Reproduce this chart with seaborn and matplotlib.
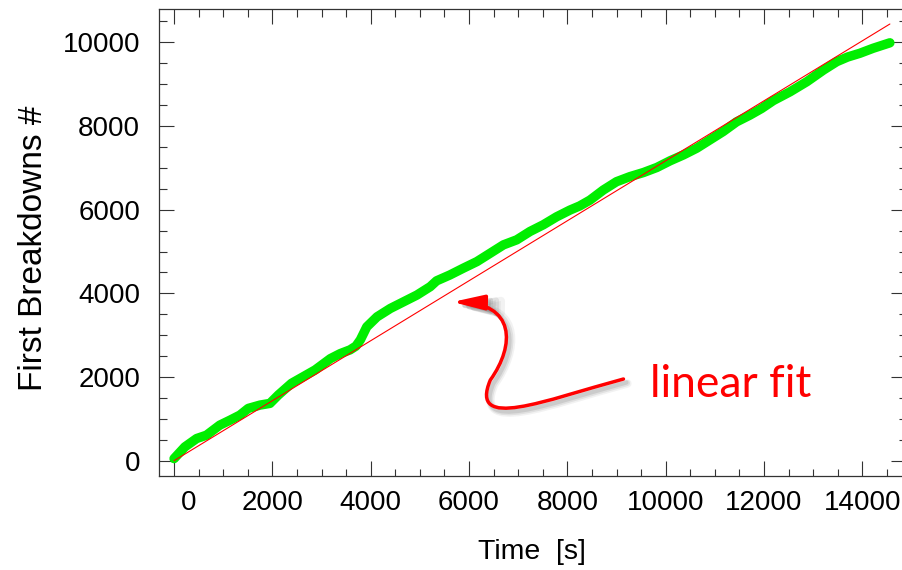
import numpy as np
import pandas as pd
import matplotlib
matplotlib.use("Agg")
import matplotlib.pyplot as plt
import seaborn as sns
from matplotlib.path import Path
from matplotlib.patches import FancyArrowPatch, ArrowStyle
from matplotlib.transforms import ScaledTranslation
from matplotlib.ticker import MultipleLocator

# Cumulative count of first breakdowns versus elapsed time
time_s = [0, 220, 460, 660, 930, 1140, 1340, 1510, 1750, 1950, 2120, 2390,
          2630, 2870, 3180, 3380, 3580, 3700, 3790, 3920, 4130, 4400, 4670,
          4940, 5210, 5340, 5610, 5880, 6160, 6430, 6700, 6970, 7240, 7510,
          7780, 8050, 8250, 8460, 8730, 9000, 9270, 9550, 9820, 10090, 10360,
          10630, 10900, 11170, 11440, 11710, 11950, 12190, 12530, 12870,
          13210, 13480, 13700, 13950, 14220, 14560]
first_breakdowns = [50, 330, 530, 610, 850, 970, 1090, 1250, 1330, 1370, 1570,
                    1850, 2010, 2170, 2440, 2560, 2650, 2740, 2890, 3200, 3440,
                    3640, 3800, 3960, 4160, 4300, 4440, 4600, 4760, 4960, 5160,
                    5280, 5480, 5640, 5830, 5990, 6090, 6230, 6470, 6670, 6790,
                    6890, 7010, 7170, 7310, 7470, 7670, 7870, 8100, 8260, 8420,
                    8610, 8820, 9060, 9340, 9540, 9650, 9740, 9860, 9990]

# Linear fit of the counts: breakdowns = slope * t + intercept
fit_slope = 0.717
fit_intercept = 0.0

x_ticks = [0, 2000, 4000, 6000, 8000, 10000, 12000, 14000]
y_ticks = [0, 2000, 4000, 6000, 8000, 10000]

sns.set_theme(style="ticks")
plt.rcParams["font.family"] = ["Liberation Sans", "DejaVu Sans"]

fig = plt.figure(figsize=(9.02, 5.70), dpi=100)
ax = fig.add_axes([0.176, 0.1654, 0.8284, 0.8188])

df = pd.DataFrame({"t": time_s, "n": first_breakdowns})
sns.lineplot(data=df, x="t", y="n", ax=ax, color="#00ee00", linewidth=6.8,
             sort=False, estimator=None, solid_capstyle="round",
             solid_joinstyle="round")

fit_t = np.array([time_s[0], time_s[-1]], dtype=float)
sns.lineplot(x=fit_t, y=fit_slope * fit_t + fit_intercept, ax=ax,
             color="#ff0000", linewidth=0.8)

ax.set_xlim(-311, 14887)
ax.set_ylim(-359, 10798)
ax.set_xticks(x_ticks)
ax.set_yticks(y_ticks)
ax.xaxis.set_minor_locator(MultipleLocator(500))
ax.yaxis.set_minor_locator(MultipleLocator(500))
ax.tick_params(which="both", direction="in", top=True, right=True,
               labeltop=False, labelright=False, color="#333333", width=0.8,
               labelcolor="black")
ax.tick_params(which="major", length=10.8, labelsize=20)
ax.tick_params(which="minor", length=5.4)
ax.tick_params(axis="y", which="major", pad=13.5)
ax.tick_params(axis="x", which="major", pad=10.3)
for sp in ax.spines.values():
    sp.set_color("#333333")
    sp.set_linewidth(0.9)
    sp.set_visible(True)

# the "0" label sits a little to the right of its tick
zero_label = ax.xaxis.get_major_ticks()[0].label1
zero_label.set_transform(zero_label.get_transform()
                         + ScaledTranslation(0.15, 0, fig.dpi_scale_trans))

ax.set_xlabel("Time  [s]", fontsize=20.5, color="black")
ax.set_ylabel("First Breakdowns #", fontsize=24, color="black")
ax.xaxis.set_label_coords(0.5, -0.1356)
ax.yaxis.set_label_coords(-0.1468, 0.488)

# Curved call-out arrow pointing at the fit line
arrow_path = Path(
    [(9141, 1953), (7553, 1451), (5985, 686), (6433, 1929),
     (6942, 2766), (6942, 3770), (5660, 3794)],
    [Path.MOVETO, Path.CURVE4, Path.CURVE4, Path.CURVE4,
     Path.CURVE4, Path.CURVE4, Path.CURVE4])
style = ArrowStyle("-|>", head_length=1.9, head_width=0.45)
for dx, dy, lw, alpha in [(4.0, -4.5, 6.0, 0.08), (3.5, -4.0, 4.5, 0.12),
                          (3.0, -3.5, 3.0, 0.16)]:
    shadow = FancyArrowPatch(
        path=arrow_path, arrowstyle=style, mutation_scale=10,
        color="#606060", alpha=alpha, linewidth=lw,
        transform=ax.transData + ScaledTranslation(dx / 100, dy / 100,
                                                   fig.dpi_scale_trans))
    ax.add_patch(shadow)
arrow = FancyArrowPatch(path=arrow_path, arrowstyle=style, mutation_scale=10,
                        color="#ff0000", linewidth=2.5)
ax.add_patch(arrow)
ax.text(9681, 1523, "linear fit", color="#ff0000", fontsize=32,
        family=["Lato", "DejaVu Sans"], va="baseline", ha="left")

fig.savefig("out.png", dpi=100)
